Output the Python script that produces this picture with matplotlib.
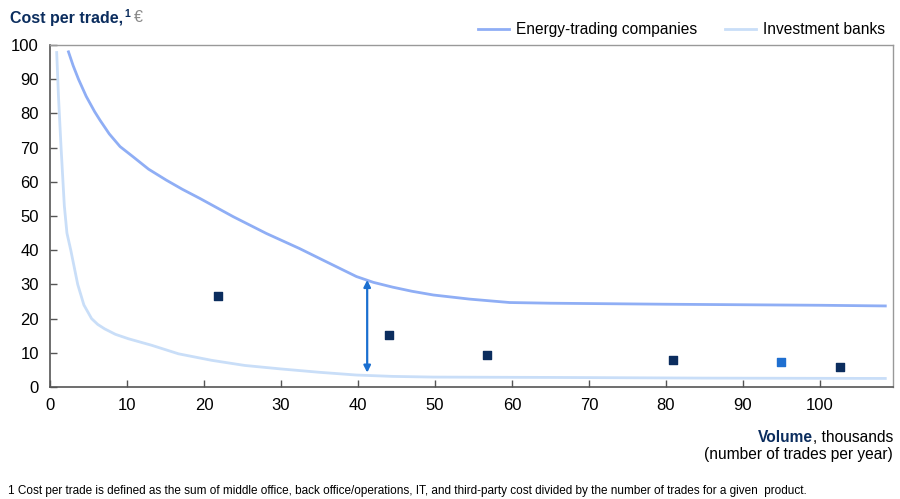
import matplotlib
matplotlib.use("Agg")
import matplotlib.pyplot as plt

plt.rcParams['font.family'] = ['Liberation Sans', 'DejaVu Sans']

# Data
energy_x = [2.4, 3.0, 3.7, 4.7, 5.8, 6.5, 7.7, 9.1, 10.8, 12.8, 15.1, 17.2, 19.5, 23.8, 28.1, 32.4, 36.0, 39.8, 42.0, 44.5, 47.0, 49.8, 54.5, 59.7, 65.0, 80.0, 100.0, 108.5]
energy_y = [98.0, 94.0, 90.0, 85.0, 80.5, 78.0, 74.0, 70.3, 67.3, 63.7, 60.5, 57.8, 55.1, 49.8, 44.9, 40.5, 36.5, 32.3, 30.6, 29.2, 28.0, 26.9, 25.7, 24.7, 24.5, 24.2, 23.9, 23.7]
bank_x = [0.87, 1.1, 1.43, 1.86, 2.2, 2.7, 3.6, 4.4, 5.4, 6.2, 7.1, 8.5, 10.2, 13.2, 16.7, 21.0, 25.3, 29.9, 35.0, 39.8, 44.5, 49.8, 64.9, 85.0, 108.5]
bank_y = [97.8, 85.0, 70.3, 53.0, 45.0, 40.0, 30.0, 24.0, 20.0, 18.3, 17.0, 15.4, 14.1, 12.2, 9.7, 7.8, 6.3, 5.3, 4.3, 3.5, 3.1, 2.9, 2.8, 2.6, 2.5]
dark_x = [21.8, 44.0, 56.7, 80.9, 102.6]
dark_y = [26.7, 15.2, 9.4, 8.0, 5.8]
light_x = [95.0]
light_y = [7.3]
arrow_x = 41.2
arrow_y = (4.2, 31.3)

navy = '#0B2D5E'
fig = plt.figure(figsize=(9, 4.99), dpi=100)
ax = fig.add_axes([50/900, 1-387/499, 843/900, 342/499])

ax.plot(energy_x, energy_y, color='#8FAEF5', lw=2, label='Energy-trading companies')
ax.plot(bank_x, bank_y, color='#C9DEF8', lw=2, label='Investment banks')
ax.scatter(dark_x, dark_y, marker='s', s=40, color=navy, zorder=5)
ax.scatter(light_x, light_y, marker='s', s=40, color='#1F6FD0', zorder=5)
ax.annotate('', xy=(arrow_x, arrow_y[1]), xytext=(arrow_x, arrow_y[0]),
            arrowprops=dict(arrowstyle='<|-|>', color='#1A6FD0', lw=1.6,
                            mutation_scale=10, shrinkA=0, shrinkB=0))

ax.set_xlim(0, 109.5)
ax.set_ylim(0, 100)
ax.set_xticks(range(0, 101, 10))
ax.set_yticks(range(0, 101, 10))
ax.tick_params(direction='in', length=5, width=1, color='#555555', labelsize=12, pad=8)
for s in ['left', 'bottom']:
    ax.spines[s].set_color('#555555')
    ax.spines[s].set_linewidth(1.2)
for s in ['top', 'right']:
    ax.spines[s].set_color('#999999')
    ax.spines[s].set_linewidth(1)

leg = ax.legend(loc='lower right', bbox_to_anchor=(1.0, 1.0), ncol=2, frameon=False,
                fontsize=11.2, handlelength=2.0, handletextpad=0.45, columnspacing=1.8,
                borderaxespad=0.1)

fig.canvas.draw()
r = fig.canvas.get_renderer()

t1 = fig.text(10/900, 1-18/499, 'Cost per trade,', fontsize=11.5, fontweight='bold', color=navy, va='center')
bb = t1.get_window_extent(r)
t2 = fig.text(bb.x1/900 + 1/900, 1-14/499, '1', fontsize=7.5, fontweight='bold', color=navy, va='center')
bb2 = t2.get_window_extent(r)
fig.text(bb2.x1/900 + 4/900, 1-18/499, '€', fontsize=11.5, color='#888888', va='center')

t4 = fig.text(893/900, 1-437/499, ', thousands', fontsize=11.2, color='black', ha='right', va='center')
bb4 = t4.get_window_extent(r)
fig.text(bb4.x0/900, 1-437/499, 'Volume', fontsize=11.2, fontweight='bold', color=navy, ha='right', va='center')
fig.text(893/900, 1-455/499, '(number of trades per year)', fontsize=11.2, color='black', ha='right', va='center')

fig.text(8/900, 1-491/499, '1 Cost per trade is defined as the sum of middle office, back office/operations, IT, and third-party cost divided by the number of trades for a given  product.',
         fontsize=8.5, color='black', va='center')

fig.savefig('out.png', dpi=100)
